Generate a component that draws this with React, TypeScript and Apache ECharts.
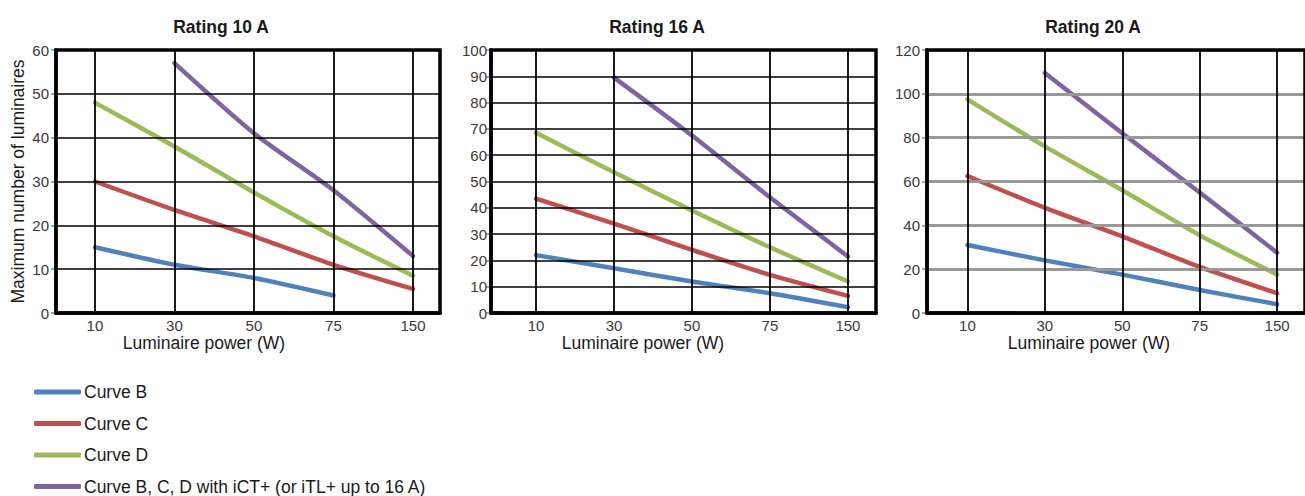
import React, { useEffect, useRef } from "react";
import * as echarts from "echarts";

const powerLabels = ["10", "30", "50", "75", "150"];
const seriesNames = [
  "Curve B",
  "Curve C",
  "Curve D",
  "Curve B, C, D with iCT+ (or iTL+ up to 16 A)",
];
const seriesColors = ["#4F81BD", "#C0504D", "#9BBB59", "#8064A2"];
const ratingTitles = ["Rating 10 A", "Rating 16 A", "Rating 20 A"];
const xAxisTitle = "Luminaire power (W)";
const yAxisTitle = "Maximum number of luminaires";

// Rating 10 A
const r10CurveB = [15, 11, 8, 4, null];
const r10CurveC = [30, 23.5, 17.5, 11, 5.5];
const r10CurveD = [48, 38, 27.5, 17.5, 8.5];
const r10Plus = [null, 57, 41, 28, 13];
// Rating 16 A
const r16CurveB = [22, 17, 12, 7.5, 2.2];
const r16CurveC = [43.5, 34, 24, 14.5, 6.5];
const r16CurveD = [68.5, 53.5, 39, 25, 12];
const r16Plus = [null, 89.5, 67.5, 44, 21.5];
// Rating 20 A
const r20CurveB = [31, 24, 17.5, 10.5, 4];
const r20CurveC = [62.5, 48, 35, 21, 9];
const r20CurveD = [97.5, 76, 56, 35.5, 17.5];
const r20Plus = [null, 109.5, 82, 55, 27.5];

const yMaxes = [60, 100, 120];
const yIntervals = [10, 10, 20];

const panelData = [
  [r10CurveB, r10CurveC, r10CurveD, r10Plus],
  [r16CurveB, r16CurveC, r16CurveD, r16Plus],
  [r20CurveB, r20CurveC, r20CurveD, r20Plus],
];

const FONT = "'Liberation Sans', Arial, sans-serif";

const layout = [
  { left: 56, width: 384, xMin: -0.49, xMax: 4.34, labelMargin: 7, titleX: 221, nameX: 204, hColor: "#000", hWidth: 1.5 },
  { left: 491, width: 385, xMin: -0.577, xMax: 4.36, labelMargin: 4, titleX: 657, nameX: 643, hColor: "#000", hWidth: 1.5 },
  { left: 927, width: 383, xMin: -0.522, xMax: 4.36, labelMargin: 7, titleX: 1093, nameX: 1089, hColor: "#999", hWidth: 3 },
];

const toPoints = (vals: (number | null)[]) =>
  vals.map((v, i) => (v == null ? null : [i, v])).filter((p) => p !== null);

export default function App() {
  const ref = useRef<HTMLDivElement>(null);

  useEffect(() => {
    if (!ref.current) return;
    const chart = echarts.init(ref.current, null, { renderer: "svg" });
    const idx = powerLabels.map((_, i) => i);

    const titles: any[] = [];
    layout.forEach((p, k) => {
      titles.push({
        text: ratingTitles[k],
        left: p.titleX,
        top: 18,
        textAlign: "center",
        padding: 0,
        textStyle: { fontFamily: FONT, fontSize: 17.5, fontWeight: "bold", color: "#1a1a1a" },
      });
      titles.push({
        text: xAxisTitle,
        left: p.nameX,
        top: 334,
        textAlign: "center",
        padding: 0,
        textStyle: { fontFamily: FONT, fontSize: 17.5, fontWeight: "normal", color: "#1a1a1a" },
      });
    });

    const grids = layout.map((p) => ({
      left: p.left,
      top: 50,
      width: p.width,
      height: 263,
      show: true,
      borderColor: "#000",
      borderWidth: 3.5,
      backgroundColor: "transparent",
      containLabel: false,
      z: 6,
    }));

    const frameLine = { show: true, onZero: false, lineStyle: { color: "#000", width: 3.5 } };

    const xAxes = layout.map((p, k) => ({
      type: "value",
      gridIndex: k,
      min: p.xMin,
      max: p.xMax,
      axisLine: frameLine,
      axisTick: { show: false, customValues: idx },
      axisLabel: {
        customValues: idx,
        formatter: (v: number) => powerLabels[Math.round(v)] ?? "",
        fontFamily: FONT,
        fontSize: 15,
        color: "#3a3a3a",
        margin: 5,
      },
      splitLine: { show: true, lineStyle: { color: "#000", width: 1.8 } },
      z: 4,
    }));

    const yAxes = layout.map((p, k) => ({
      type: "value",
      gridIndex: k,
      min: 0,
      max: yMaxes[k],
      interval: yIntervals[k],
      name: k === 0 ? yAxisTitle : "",
      nameLocation: "middle",
      nameRotate: 90,
      nameGap: 29,
      nameTextStyle: { fontFamily: FONT, fontSize: 17.5, color: "#1a1a1a" },
      axisLine: frameLine,
      axisTick: { show: true, inside: false, length: 5, lineStyle: { color: "#888", width: 1.5 } },
      axisLabel: {
        fontFamily: FONT,
        fontSize: 15,
        color: "#3a3a3a",
        margin: p.labelMargin,
      },
      splitLine: { show: true, lineStyle: { color: p.hColor, width: p.hWidth } },
      z: 4,
    }));

    const series: any[] = [];
    panelData.forEach((curves, k) => {
      curves.forEach((vals, s) => {
        series.push({
          type: "line",
          name: seriesNames[s],
          xAxisIndex: k,
          yAxisIndex: k,
          data: toPoints(vals),
          smooth: 0.25,
          showSymbol: false,
          symbol: "none",
          color: seriesColors[s],
          itemStyle: { color: seriesColors[s] },
          lineStyle: { color: seriesColors[s], width: 4.5, cap: "round" },
          z: 3,
        });
      });
    });

    chart.setOption({
      animation: false,
      backgroundColor: "#fff",
      title: titles,
      grid: grids,
      xAxis: xAxes,
      yAxis: yAxes,
      legend: {
        data: seriesNames,
        orient: "vertical",
        left: 34,
        top: 383,
        itemWidth: 47,
        itemHeight: 5,
        itemGap: 13.5,
        icon: "roundRect",
        padding: 0,
        textStyle: { fontFamily: FONT, fontSize: 17.5, color: "#1a1a1a", padding: [0, 0, 0, -2] },
      },
      series,
    });

    return () => chart.dispose();
  }, []);

  return (
    <div
      ref={ref}
      style={{ position: "absolute", left: 0, top: 0, width: 1305, height: 496 }}
    />
  );
}
